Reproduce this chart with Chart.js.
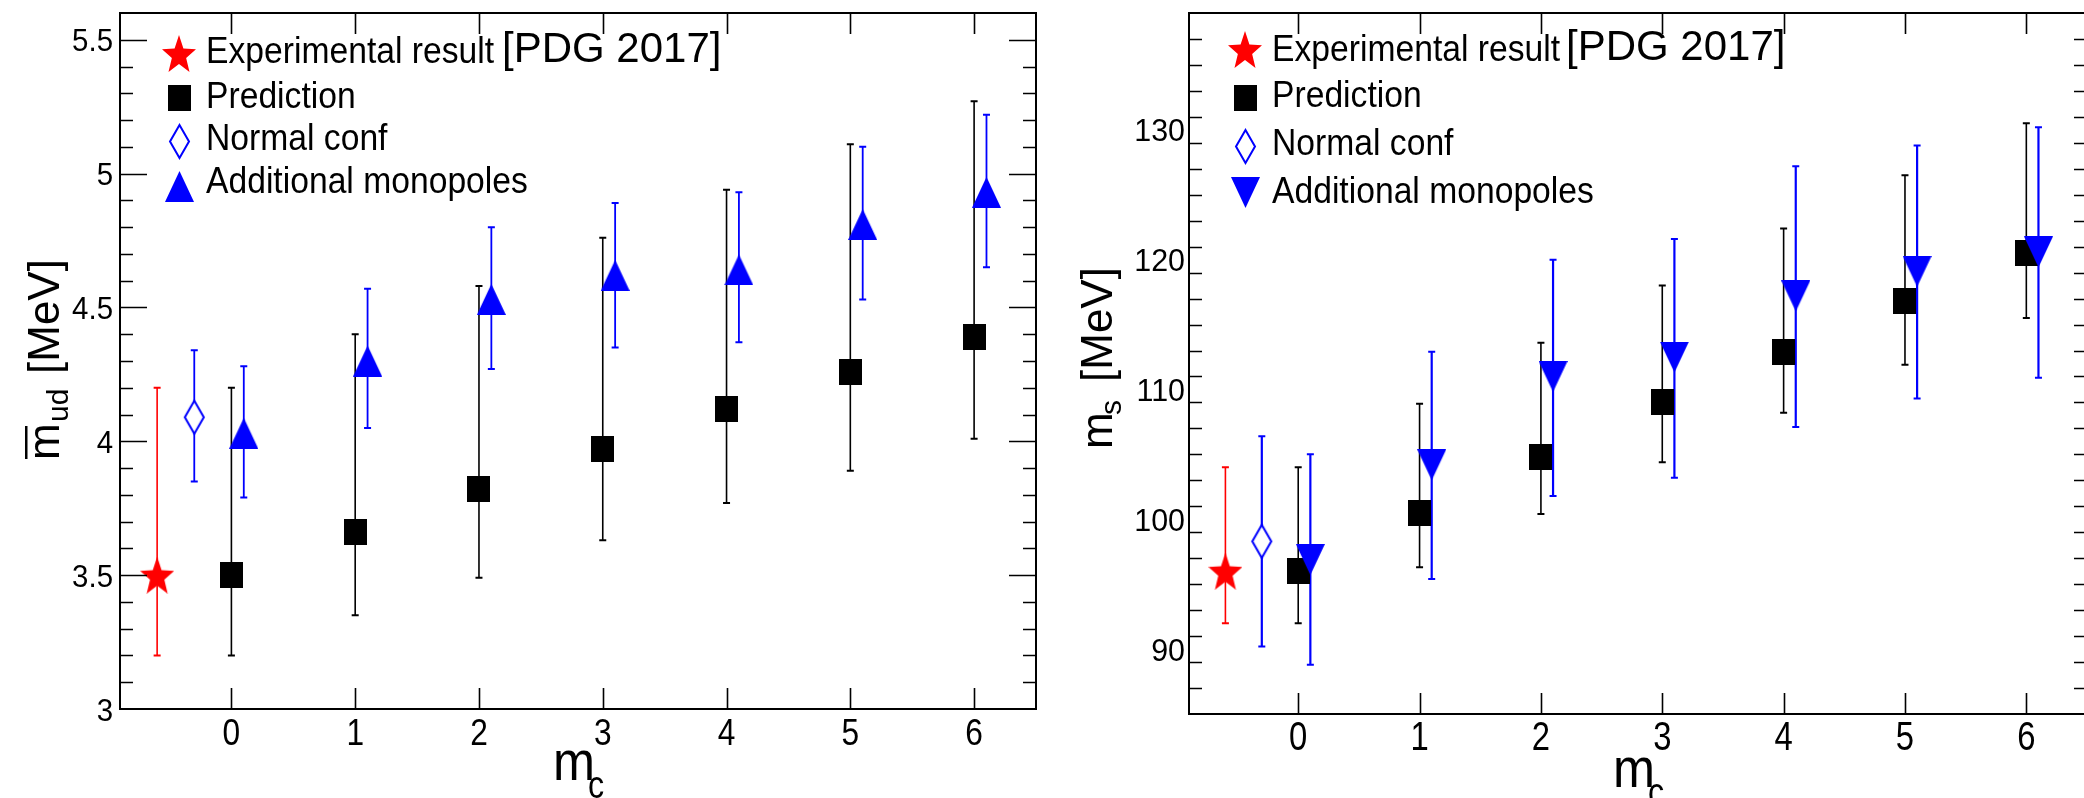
<!DOCTYPE html>
<html><head><meta charset="utf-8">
<script src="https://cdn.jsdelivr.net/npm/chart.js@4.4.1/dist/chart.umd.min.js"></script>
<style>
html,body{margin:0;padding:0;background:#fff;overflow:hidden;width:2084px;height:798px;position:relative;}
#wrapL{position:absolute;left:0;top:0;width:1060px;height:798px;}
#wrapR{position:absolute;left:1060px;top:0;width:1040px;height:798px;}
canvas{display:block;}
</style></head><body>
<div id="wrapL"><canvas id="cL" width="1060" height="798"></canvas></div>
<div id="wrapR"><canvas id="cR" width="1040" height="798"></canvas></div>
<script>
// ---------------- data ----------------
const mcValues = [0, 1, 2, 3, 4, 5, 6];
const xTickLabels = ['0', '1', '2', '3', '4', '5', '6'];
const monoX = [0.1, 1.1, 2.1, 3.1, 4.1, 5.1, 6.1];
const expX = [-0.6];
const normX = [-0.3];

const legendLabels = ['Experimental result', 'Prediction', 'Normal conf', 'Additional monopoles'];
const legendRef = '[PDG 2017]';

// left panel: m_ud
const udYTicks = [3, 3.5, 4, 4.5, 5, 5.5];
const udYTickLabels = ['3', '3.5', '4', '4.5', '5', '5.5'];
const udExpVal = [3.5], udExpLo = [3.2], udExpHi = [4.2];
const udNormVal = [4.09], udNormLo = [3.85], udNormHi = [4.34];
const udPredVal = [3.50, 3.66, 3.82, 3.97, 4.12, 4.26, 4.39];
const udPredLo  = [3.20, 3.35, 3.49, 3.63, 3.77, 3.89, 4.01];
const udPredHi  = [4.20, 4.40, 4.58, 4.76, 4.94, 5.11, 5.27];
const udMonoVal = [4.03, 4.30, 4.53, 4.62, 4.64, 4.81, 4.93];
const udMonoLo  = [3.79, 4.05, 4.27, 4.35, 4.37, 4.53, 4.65];
const udMonoHi  = [4.28, 4.57, 4.80, 4.89, 4.93, 5.10, 5.22];

// right panel: m_s
const sYTicks = [90, 100, 110, 120, 130];
const sYTickLabels = ['90', '100', '110', '120', '130'];
const sExpVal = [96.0], sExpLo = [92.0], sExpHi = [104.0];
const sNormVal = [98.3], sNormLo = [90.2], sNormHi = [106.4];
const sPredVal = [96.0, 100.5, 104.8, 109.0, 112.9, 116.8, 120.5];
const sPredLo  = [92.0, 96.3, 100.4, 104.4, 108.2, 111.9, 115.5];
const sPredHi  = [104.0, 108.9, 113.6, 118.0, 122.4, 126.5, 130.5];
const sMonoVal = [96.9, 104.2, 111.0, 112.5, 117.2, 119.1, 120.6];
const sMonoLo  = [88.8, 95.4, 101.8, 103.2, 107.1, 109.3, 110.9];
const sMonoHi  = [105.0, 112.9, 120.0, 121.6, 127.2, 128.8, 130.2];

// ---------------- marker images ----------------
const FONT = '"Liberation Sans", Arial, Helvetica, sans-serif';
function mkCanvas(w, h, draw) { const c = document.createElement('canvas'); c.width = w; c.height = h; draw(c.getContext('2d'), w, h); return c; }
function mkSquare(w, h, col) { return mkCanvas(w, h, g => { g.fillStyle = col; g.fillRect(0, 0, w, h); }); }
function mkTri(w, h, col, down) {
  return mkCanvas(w, h, g => {
    g.fillStyle = col; g.beginPath();
    if (!down) { g.moveTo(w / 2, 0); g.lineTo(w, h); g.lineTo(0, h); }
    else { g.moveTo(0, 0); g.lineTo(w, 0); g.lineTo(w / 2, h); }
    g.closePath(); g.fill();
  });
}
function mkDiamond(w, h, col, lw) {
  return mkCanvas(w, h, g => {
    g.fillStyle = '#fff'; g.strokeStyle = col; g.lineWidth = lw; g.beginPath();
    g.moveTo(w / 2, lw); g.lineTo(w - lw, h / 2); g.lineTo(w / 2, h - lw); g.lineTo(lw, h / 2);
    g.closePath(); g.fill(); g.stroke();
  });
}
function mkStar(w, h, col) {
  return mkCanvas(w, h, g => {
    const Rx = w / 2 / Math.sin(72 * Math.PI / 180);
    const Ry = h / 1.809;
    const cx = w / 2, cy = Ry;
    const inner = 0.42;
    g.fillStyle = col; g.beginPath();
    for (let i = 0; i < 10; i++) {
      const a = -Math.PI / 2 + i * Math.PI / 5;
      const r = (i % 2) ? inner : 1;
      const px = cx + r * Rx * Math.cos(a), py = cy + r * Ry * Math.sin(a);
      if (i === 0) g.moveTo(px, py); else g.lineTo(px, py);
    }
    g.closePath(); g.fill();
  });
}
const imgStar = mkStar(34, 37, '#ff0000');
const imgSquare = mkSquare(23, 26, '#000000');
const imgDiamond = mkDiamond(23, 37, '#0000ff', 2);
const imgTriUp = mkTri(29, 31, '#0000ff', false);
const imgTriDown = mkTri(29, 31, '#0000ff', true);

// ---------------- helpers ----------------
function txt(ctx, s, x, y, size, sx, align, rot) {
  ctx.save();
  ctx.translate(x, y);
  ctx.scale(sx, 1);
  if (rot) ctx.rotate(rot);
  ctx.font = size + 'px ' + FONT;
  ctx.textAlign = align || 'left';
  ctx.textBaseline = 'alphabetic';
  ctx.fillStyle = '#000';
  ctx.fillText(s, 0, 0);
  ctx.restore();
}
function pts(xs, ys) { return ys.map((v, i) => ({ x: xs[i], y: v })); }

const errorBars = {
  id: 'errorBars',
  beforeDatasetsDraw(chart) {
    const ctx = chart.ctx, xs = chart.scales.x, ys = chart.scales.y;
    chart.data.datasets.forEach(ds => {
      if (!ds.errLo) return;
      ctx.save();
      ctx.strokeStyle = ds.errColor;
      ds.data.forEach((p, i) => {
        const px = xs.getPixelForValue(p.x);
        const y1 = ys.getPixelForValue(ds.errLo[i]);
        const y2 = ys.getPixelForValue(ds.errHi[i]);
        ctx.lineWidth = ds.errWidth;
        ctx.beginPath(); ctx.moveTo(px, y1); ctx.lineTo(px, y2); ctx.stroke();
        ctx.lineWidth = 2;
        ctx.beginPath();
        ctx.moveTo(px - 3.5, y1); ctx.lineTo(px + 3.5, y1);
        ctx.moveTo(px - 3.5, y2); ctx.lineTo(px + 3.5, y2);
        ctx.stroke();
      });
      ctx.restore();
    });
  }
};

const rootFrame = {
  id: 'rootFrame',
  afterDraw(chart, args, o) {
    const ctx = chart.ctx, a = chart.chartArea, xs = chart.scales.x, ys = chart.scales.y;
    ctx.save();
    ctx.strokeStyle = '#000';
    // ticks
    ctx.lineWidth = 1.6;
    ctx.beginPath();
    for (let v = ys.min + o.yMinorStep; v < ys.max - 1e-9; v += o.yMinorStep) {
      const isMajor = o.yTicks.some(t => Math.abs(t - v) < 1e-6);
      const L = isMajor ? 27 : 13;
      const py = Math.round(ys.getPixelForValue(v)) + 0.5;
      ctx.moveTo(a.left, py); ctx.lineTo(a.left + L, py);
      ctx.moveTo(a.right, py); ctx.lineTo(a.right - L, py);
    }
    mcValues.forEach(v => {
      const px = Math.round(xs.getPixelForValue(v)) + 0.5;
      ctx.moveTo(px, a.bottom); ctx.lineTo(px, a.bottom - 21);
      ctx.moveTo(px, a.top); ctx.lineTo(px, a.top + 21);
    });
    ctx.stroke();
    // frame
    ctx.lineWidth = 2;
    ctx.strokeRect(a.left, a.top, a.right - a.left, a.bottom - a.top);
    ctx.restore();

    // tick labels
    o.yTicks.forEach((v, i) => {
      txt(ctx, o.yTickLabels[i], a.left - o.yLabGap, ys.getPixelForValue(v) + 11.5, o.yLabSize, o.yLabSx, 'right');
    });
    mcValues.forEach((v, i) => {
      txt(ctx, xTickLabels[i], xs.getPixelForValue(v), o.xLabBase, o.xLabSize, o.xLabSx, 'center');
    });

    // x title m_c
    txt(ctx, 'm', o.xt.x, o.xt.y, 56, 0.9, 'left');
    txt(ctx, 'c', o.xt.x + 35, o.xt.y + 18, 38, 0.85, 'left');

    // y title (rotated)
    const yt = o.yt;
    ctx.save();
    ctx.translate(yt.x, yt.y);
    ctx.rotate(-Math.PI / 2);
    ctx.fillStyle = '#000';
    ctx.textBaseline = 'alphabetic';
    ctx.font = '44px ' + FONT;
    ctx.fillText('m', 0, 0);
    if (yt.bar) {
      ctx.fillRect(1, -34, 33, 2.5);
    }
    ctx.font = '30px ' + FONT;
    ctx.fillText(yt.sub, yt.subX, 9);
    ctx.font = '44px ' + FONT;
    ctx.fillText('[MeV]', yt.mevX, 0);
    ctx.restore();

    // legend
    const L = o.leg;
    const imgs = [imgStar, imgSquare, imgDiamond, o.monoImg];
    imgs.forEach((im, i) => {
      ctx.drawImage(im, Math.round(L.mx - im.width / 2), Math.round(L.my[i] - im.height / 2));
      txt(ctx, legendLabels[i], L.tx, L.base[i], 36, 0.935, 'left');
    });
    txt(ctx, legendRef, L.refX, L.base[0] - 1, 42, 1.0, 'left');
  }
};

function makeChart(id, cfg) {
  return new Chart(document.getElementById(id), {
    type: 'scatter',
    data: {
      datasets: [
        { label: legendLabels[3], data: pts(monoX, cfg.mono[0]), errLo: cfg.mono[1], errHi: cfg.mono[2], errColor: '#0000ff', errWidth: cfg.blueW, pointStyle: cfg.monoImg, pointRadius: 12, order: 0 },
        { label: legendLabels[2], data: pts(normX, cfg.norm[0]), errLo: cfg.norm[1], errHi: cfg.norm[2], errColor: '#0000ff', errWidth: cfg.blueW, pointStyle: imgDiamond, pointRadius: 12, order: 1 },
        { label: legendLabels[1], data: pts(mcValues, cfg.pred[0]), errLo: cfg.pred[1], errHi: cfg.pred[2], errColor: '#000000', errWidth: 1.6, pointStyle: imgSquare, pointRadius: 12, order: 2 },
        { label: legendLabels[0], data: pts(expX, cfg.exp[0]), errLo: cfg.exp[1], errHi: cfg.exp[2], errColor: '#ff0000', errWidth: 1.6, pointStyle: imgStar, pointRadius: 12, order: 3 }
      ]
    },
    options: {
      responsive: false, animation: false, devicePixelRatio: 1,
      layout: { padding: cfg.pad },
      scales: {
        x: { type: 'linear', min: -0.9, max: 6.5, display: false },
        y: { type: 'linear', min: cfg.yMin, max: cfg.yMax, display: false }
      },
      elements: { point: { hoverRadius: 12 } },
      datasets: { scatter: { clip: false, showLine: false } },
      plugins: {
        legend: { display: false }, tooltip: { enabled: false },
        rootFrame: cfg.frame
      }
    },
    plugins: [errorBars, rootFrame]
  });
}

makeChart('cL', {
  yMin: 3, yMax: 5.6,
  pad: { left: 120, right: 24, top: 8, bottom: 89 },
  exp: [udExpVal, udExpLo, udExpHi], norm: [udNormVal, udNormLo, udNormHi],
  pred: [udPredVal, udPredLo, udPredHi], mono: [udMonoVal, udMonoLo, udMonoHi],
  monoImg: imgTriUp, blueW: 1.8,
  frame: {
    yTicks: udYTicks, yTickLabels: udYTickLabels, yMinorStep: 0.1,
    yLabGap: 7, yLabSize: 32, yLabSx: 0.92,
    xLabBase: 745, xLabSize: 36, xLabSx: 0.88,
    xt: { x: 553, y: 780 },
    yt: { x: 59, y: 460, bar: true, sub: 'ud', subX: 38, mevX: 86 },
    leg: { mx: 179, my: [53, 98, 141.5, 186], tx: 206, base: [63, 108, 150, 193], refX: 502 },
    monoImg: imgTriUp
  }
});

makeChart('cR', {
  yMin: 85, yMax: 139,
  pad: { left: 129, right: 12, top: 6, bottom: 84 },
  exp: [sExpVal, sExpLo, sExpHi], norm: [sNormVal, sNormLo, sNormHi],
  pred: [sPredVal, sPredLo, sPredHi], mono: [sMonoVal, sMonoLo, sMonoHi],
  monoImg: imgTriDown, blueW: 2.2,
  frame: {
    yTicks: sYTicks, yTickLabels: sYTickLabels, yMinorStep: 2,
    yLabGap: 4, yLabSize: 32, yLabSx: 0.95,
    xLabBase: 750, xLabSize: 40, xLabSx: 0.82,
    xt: { x: 553, y: 787 },
    yt: { x: 52, y: 449, bar: false, sub: 's', subX: 34, mevX: 67 },
    leg: { mx: 185, my: [49, 98, 146, 192], tx: 212, base: [61, 107, 155, 203], refX: 506 },
    monoImg: imgTriDown
  }
});
</script>
</body></html>
